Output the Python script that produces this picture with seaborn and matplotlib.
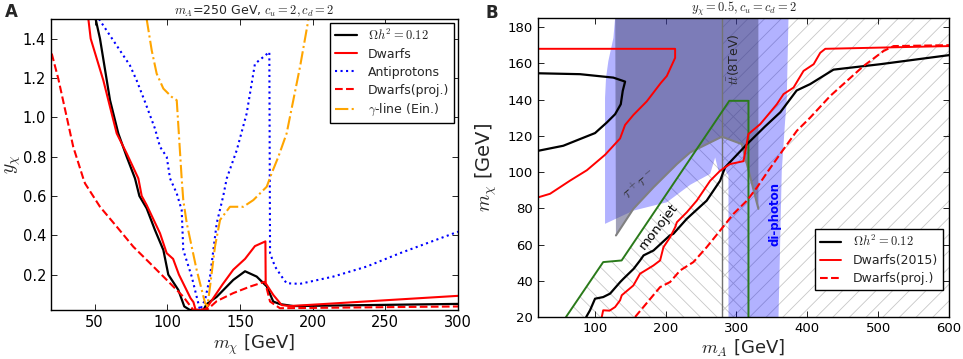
import matplotlib
matplotlib.use("Agg")
import matplotlib.pyplot as plt
import seaborn as sns

# ---------------- Panel A data (m_chi [GeV], y_chi) ----------------
a_relic_x = [50.7, 53.7, 60.6, 66.3, 72.1, 77.8, 80.8, 85.8, 91.5, 97.3, 100.7, 107.6, 111.7, 115.6,
             124.8, 127.1, 134.0, 145.4, 153.5, 161.5, 168.4, 172.9, 177.5, 186.7, 300]
a_relic_y = [1.5, 1.4, 1.087, 0.918, 0.799, 0.689, 0.6, 0.537, 0.427, 0.325, 0.2, 0.122, 0.038, 0.02,
             0.02, 0.05, 0.087, 0.173, 0.217, 0.19, 0.14, 0.063, 0.05, 0.04, 0.051]

a_dwarf_x = [45.7, 47.3, 56.0, 65.2, 72.1, 80.1, 82.4, 85.8, 95.0, 99.6, 104, 108, 112, 116, 118, 119.5,
             126, 128, 131.6, 138, 145.4, 153.5, 160.3, 167.5, 167.7, 173, 178.7, 184.5, 300]
a_dwarf_y = [1.5, 1.4, 1.188, 0.918, 0.816, 0.689, 0.6, 0.554, 0.41, 0.309, 0.28, 0.2, 0.14, 0.08, 0.06, 0.02,
             0.02, 0.04, 0.08, 0.15, 0.225, 0.28, 0.345, 0.369, 0.156, 0.096, 0.045, 0.04, 0.092]

a_pbar_x = [53.0, 74.3, 78.9, 84.7, 91.5, 95.0, 99.6, 101.9, 106.5, 109.9, 111.0, 116.8, 120.2, 122.5,
            126.0, 129.4, 134.0, 138.5, 140.9, 147.8, 154.6, 160.3, 166.1, 170.2, 170.7, 174.1, 178.7,
            182.1, 191.3, 214.2, 237.2, 260.1, 300]
a_pbar_y = [1.5, 1.264, 1.188, 1.078, 0.943, 0.85, 0.799, 0.689, 0.613, 0.528, 0.325, 0.19, 0.088, 0.02,
            0.072, 0.19, 0.461, 0.6, 0.689, 0.833, 1.019, 1.272, 1.307, 1.332, 0.309, 0.241, 0.19,
            0.156, 0.153, 0.19, 0.241, 0.309, 0.418]

a_proj_x = [20.5, 25.0, 30.8, 35.3, 42.2, 43.4, 53.7, 65.2, 76.6, 88.1, 99.6, 111.0, 117.9, 128, 134.0,
            145.4, 156.9, 167.2, 170.7, 177.5, 300]
a_proj_y = [1.324, 1.197, 1.002, 0.85, 0.689, 0.664, 0.545, 0.444, 0.342, 0.258, 0.173, 0.088, 0.02, 0.025,
            0.065, 0.106, 0.139, 0.164, 0.063, 0.029, 0.038]

a_gline_x = [85.8, 89.3, 92.7, 97.3, 103.0, 106.5, 109.9, 111.0, 113.4, 116.8, 120.2, 123.7, 126.0, 127.6,
             129.4, 132.8, 136.3, 143.1, 152.3, 159.2, 168.4, 171.8, 176.4, 182.1, 186.7, 191.3, 197.0]
a_gline_y = [1.5, 1.34, 1.222, 1.146, 1.104, 1.087, 0.689, 0.579, 0.461, 0.342, 0.224, 0.122, 0.055, 0.04,
             0.139, 0.342, 0.478, 0.545, 0.545, 0.579, 0.647, 0.715, 0.799, 0.918, 1.087, 1.256, 1.493]

a_labels = [r"$\Omega h^2=0.12$", "Dwarfs", "Antiprotons", "Dwarfs(proj.)", r"$\gamma$-line (Ein.)"]
a_xticks = [50, 100, 150, 200, 250, 300]
a_yticks = [0.2, 0.4, 0.6, 0.8, 1.0, 1.2, 1.4]

# ---------------- Panel B data (m_A [GeV], m_chi [GeV]) ----------------
b_relic_up_x = [20, 55.7, 79.3, 100.5, 117, 128.8, 136.8, 139.6, 142.9, 126.4, 79.3, 20]
b_relic_up_y = [111.7, 114.5, 118.2, 121.5, 127.3, 131.9, 137.4, 144.8, 149.9, 152.1, 154, 154.5]
b_relic_x = [88, 93.4, 100.5, 112, 121.7, 136, 140.5, 155, 164, 169, 183, 188, 206, 211, 230, 235,
             258, 277, 284, 315, 340, 362, 385, 404, 437, 503, 600]
b_relic_y = [20, 23.7, 30.1, 31, 32.9, 39.3, 41.1, 46.6, 51.2, 54, 56.7, 58.5, 65, 65.9, 74.2, 76,
             84.2, 95.2, 102.6, 115.4, 125, 133, 145, 148.5, 156.5, 159.5, 164.5]

b_dwarf_up_x = [20, 37, 65, 89, 114.6, 135.8, 142.9, 154.6, 173.5, 193, 201.8, 213.5, 213.5, 20]
b_dwarf_up_y = [86, 88, 95.2, 101, 109.5, 118.5, 126, 131.5, 139, 149, 153, 163, 168, 168]
b_dwarf_x = [110, 112, 121, 128.8, 135.8, 138.2, 154.6, 164, 182.8, 192.3, 197, 206.4, 213.5, 216, 230,
             244, 263, 277, 284, 291, 310, 317, 333.6, 357, 366.5, 380.6, 394.7, 409, 418.3, 425.4, 600]
b_dwarf_y = [20, 23.7, 23.5, 25.5, 29.2, 32, 37.4, 43.9, 48.4, 51.2, 58.5, 64, 69.5, 72.3, 77.8,
             84.2, 95.2, 100.7, 102.6, 104.4, 106, 121, 126.4, 137.4, 143, 146.6, 155.8, 159.5, 165.8, 168, 169.5]

b_proj_x = [157, 192.3, 206.4, 220.6, 239.3, 258, 277, 295.8, 314.8, 329, 345, 361.8, 385.4, 404,
            432.4, 479.4, 507.7, 521.8, 600]
b_proj_y = [20, 36.5, 39.3, 45.7, 50.3, 58.5, 67.7, 76.9, 84.2, 91.5, 100.7, 110, 122.8, 130,
            142, 158.5, 166.8, 169.5, 170]

b_monojet_x = [59.5, 112, 138, 290, 317, 317]
b_monojet_y = [20, 50.3, 51.2, 139.3, 139.3, 20]

b_tau_x = [130, 154.6, 182.8, 216, 234.7, 258.3, 279.5, 307.6, 331, 331, 129]
b_tau_y = [65, 79.7, 91.5, 104.4, 110.8, 115.4, 119.5, 115.4, 79.7, 185, 185]

b_diphoton_x = [128.8, 126.4, 119.3, 116, 114.6, 114.6, 154.6, 201.8, 235, 263, 270, 274.7, 281.7,
                288.8, 288.8, 359.4, 364, 368.7, 371, 373.5]
b_diphoton_y = [185, 174, 161.3, 152, 141, 71.4, 78.7, 83.3, 93, 99, 108, 100.7, 102.6,
                98, 20, 20, 100.7, 128, 139, 185]

b_tt_mA = 279.4
b_labels = [r"$\Omega h^2=0.12$", "Dwarfs(2015)", "Dwarfs(proj.)"]
b_xticks = [100, 200, 300, 400, 500, 600]
b_yticks = [20, 40, 60, 80, 100, 120, 140, 160, 180]

# ---------------- style ----------------
sns.set_theme(style="white")
plt.rcParams.update({
    "font.family": ["DejaVu Sans"],
    "mathtext.fontset": "cm",
    "axes.edgecolor": "black",
    "axes.linewidth": 1.0,
    "xtick.direction": "in",
    "ytick.direction": "in",
    "xtick.top": True,
    "ytick.right": True,
    "xtick.bottom": True,
    "ytick.left": True,
    "xtick.major.size": 4,
    "ytick.major.size": 4,
    "xtick.major.width": 0.6,
    "ytick.major.width": 0.6,
    "xtick.color": "black",
    "ytick.color": "black",
    "hatch.linewidth": 0.6,
    "legend.frameon": True,
})

fig = plt.figure(figsize=(9.63, 3.59), dpi=100)
axA = fig.add_axes([51 / 963, 1 - 310 / 359, (458 - 51) / 963, (310 - 19) / 359])
axB = fig.add_axes([538 / 963, 1 - 317 / 359, (949 - 538) / 963, (317 - 18) / 359])


def line(ax, x, y, **kw):
    sns.lineplot(x=x, y=y, ax=ax, sort=False, estimator=None, legend=False, **kw)
    return ax.lines[-1]


# ---------------- Panel A ----------------
hA = []
hA.append(line(axA, a_relic_x, a_relic_y, color="black", linewidth=1.6))
hA.append(line(axA, a_dwarf_x, a_dwarf_y, color="red", linewidth=1.5))
hA.append(line(axA, a_pbar_x, a_pbar_y, color="blue", linewidth=1.5, linestyle=":"))
hA.append(line(axA, a_proj_x, a_proj_y, color="red", linewidth=1.5, linestyle="--"))
hA.append(line(axA, a_gline_x, a_gline_y, color="orange", linewidth=1.5, linestyle="-."))
axA.set_xlim(20, 300)
axA.set_ylim(0.02, 1.5)
axA.set_xticks(a_xticks)
axA.set_yticks(a_yticks)
axA.tick_params(labelsize=10.5)
axA.set_xlabel(r"$m_\chi$ [GeV]", fontsize=13, labelpad=2)
axA.set_ylabel(r"$y_\chi$", fontsize=14, labelpad=0)
axA.set_title(r"$m_A$=250 GeV, $c_u=2, c_d=2$", fontsize=9, pad=2)
legA = axA.legend(hA, a_labels, loc="upper right", fontsize=9, handlelength=1.7, handletextpad=0.9,
                  borderaxespad=0.3, fancybox=False, framealpha=1, edgecolor="black", labelspacing=0.4)
legA.get_frame().set_linewidth(1.0)

# ---------------- Panel B ----------------
axB.fill_betweenx([20, 185], b_tt_mA, 600, facecolor="none", edgecolor="0.78", linewidth=0, hatch="//", zorder=0.5)
axB.fill(b_monojet_x, b_monojet_y, facecolor="none", edgecolor="0.78", linewidth=0, hatch="\\\\", zorder=0.5)
axB.fill(b_diphoton_x, b_diphoton_y, facecolor=(0, 0, 1, 0.3), edgecolor="none", zorder=0.8)
axB.fill(b_tau_x, b_tau_y, facecolor=(0.28, 0.28, 0.45, 0.5), edgecolor="none", zorder=0.9)
line(axB, b_tau_x[:9], b_tau_y[:9], color="gray", linewidth=1.5)
axB.axvline(b_tt_mA, color="0.45", linewidth=1.0, zorder=1)
line(axB, b_monojet_x, b_monojet_y, color="#2a7a1a", linewidth=1.4)

hB = []
line(axB, b_relic_up_x, b_relic_up_y, color="black", linewidth=1.6)
hB.append(line(axB, b_relic_x, b_relic_y, color="black", linewidth=1.6))
line(axB, b_dwarf_up_x, b_dwarf_up_y, color="red", linewidth=1.4)
hB.append(line(axB, b_dwarf_x, b_dwarf_y, color="red", linewidth=1.4))
hB.append(line(axB, b_proj_x, b_proj_y, color="red", linewidth=1.5, linestyle="--"))

axB.text(295, 162, r"$t\bar{t}$(8TeV)", rotation=90, fontsize=9, ha="center", va="center", color="0.15")
axB.text(190, 70, "monojet", rotation=52, fontsize=9.5, ha="center", va="center", color="black")
axB.text(163, 93, r"$\tau^+\tau^-$", rotation=40, fontsize=10.5, ha="center", va="center", color="0.2")
axB.text(354, 77, "di-photon", rotation=90, fontsize=8.5, fontweight="bold", ha="center", va="center",
         color="blue")

axB.set_xlim(20, 600)
axB.set_ylim(20, 185)
axB.set_xticks(b_xticks)
axB.set_yticks(b_yticks)
axB.tick_params(labelsize=9.5)
axB.set_xlabel(r"$m_A$ [GeV]", fontsize=13, labelpad=2)
axB.set_ylabel(r"$m_\chi$ [GeV]", fontsize=14, labelpad=6)
axB.set_title(r"$y_\chi=0.5, c_u=c_d=2$", fontsize=9, pad=2)
legB = axB.legend(hB, b_labels, loc="lower right", bbox_to_anchor=(0.985, 0.09), borderaxespad=0,
                  fontsize=9, handlelength=1.7, handletextpad=0.9, fancybox=False, framealpha=1,
                  edgecolor="black", labelspacing=0.4)
legB.get_frame().set_linewidth(1.0)

for ax in (axA, axB):
    for s in ax.spines.values():
        s.set_color("black")
        s.set_linewidth(1.0)

fig.text(11 / 963, 1 - 12 / 359, "A", fontsize=12, fontweight="bold", ha="center", va="center")
fig.text(492 / 963, 1 - 13 / 359, "B", fontsize=12, fontweight="bold", ha="center", va="center")

fig.savefig("out.png", dpi=100)
